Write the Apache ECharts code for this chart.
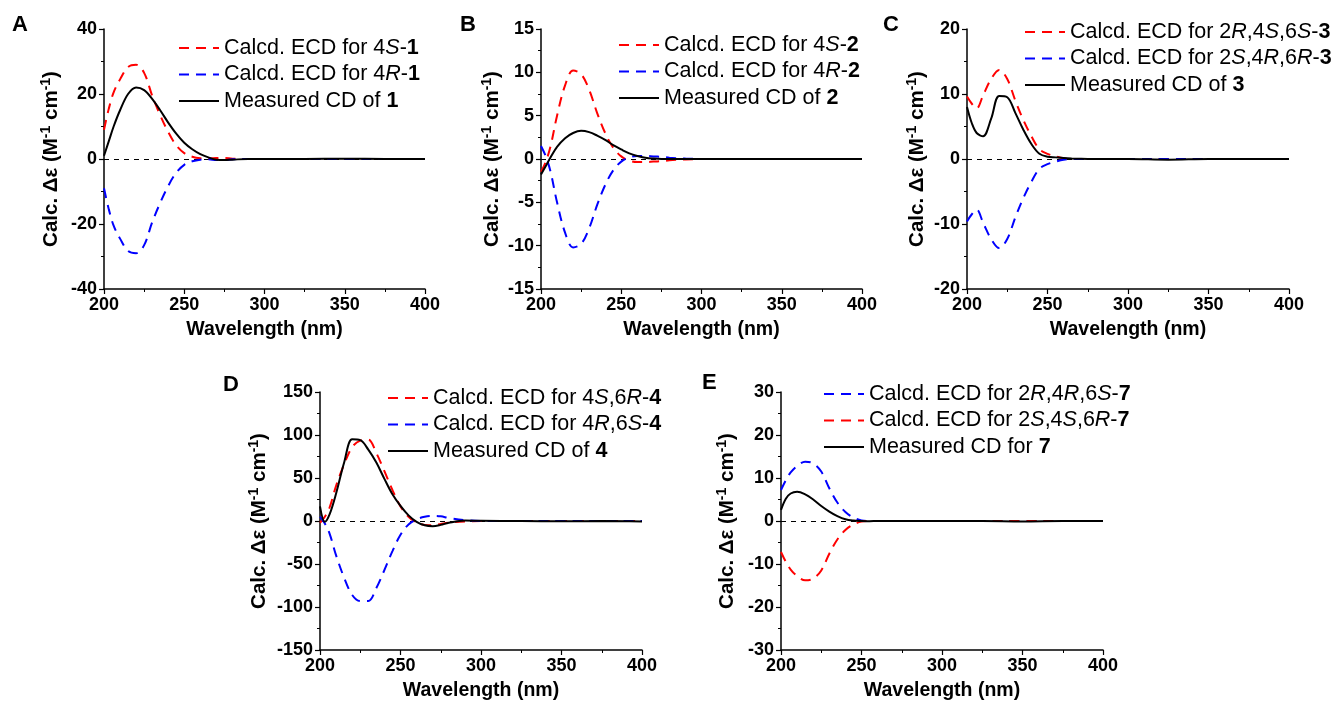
<!DOCTYPE html>
<html><head><meta charset="utf-8">
<script src="https://cdn.jsdelivr.net/npm/echarts@6/dist/echarts.min.js"></script>
<style>html,body{margin:0;padding:0;background:#fff}#c{width:1332px;height:702px}</style>
</head><body><div id="c"></div>
<script>
// ---- data ----
const wavelengths = [200,203,206,210,215,220,225,230,235,240,245,250,255,260,265,270,275,280,290,300,325,350,375,400];

const calcA_4S = [9,15.5,20.5,24.5,28.3,29,26.5,19.5,13.5,8.3,4.2,1.8,0.7,0.2,0.1,0.3,0.3,0.1,0,0,0,0,0,0];
const calcA_4R = [-9,-15.5,-20.5,-24.5,-28.3,-29,-26.5,-19.5,-13.5,-8.3,-4.2,-1.8,-0.7,-0.2,-0.1,-0.3,-0.3,-0.1,0,0,0,0,0,0];
const measA    = [1,5.5,10,15,20,22,21.2,18.5,15,11.2,7.8,5,3,1.5,0.5,-0.2,-0.3,-0.2,0,0,0,0.1,0,0];

const calcB_4S = [-1.5,-0.3,1.5,5,8.5,10.2,9.8,8,5.3,3,1.3,0.3,-0.2,-0.35,-0.35,-0.3,-0.25,-0.15,-0.05,0,0,0,0,0];
const calcB_4R = [1.5,0.3,-1.5,-5,-8.5,-10.2,-9.8,-8,-5.3,-3,-1.3,-0.3,0.2,0.35,0.35,0.3,0.25,0.15,0.05,0,0,0,0,0];
const measB    = [-1.8,-0.8,0.2,1.4,2.4,3.0,3.25,3.1,2.7,2.2,1.6,1.1,0.65,0.35,0.15,0.05,0,0,0,0,0,0,0,0];

const calcC_2R4S6S = [9.6,8.5,7.8,9.8,12.3,13.7,12.3,9,6,3.5,1.5,0.8,0.4,0.1,0,0,0,0,0,0,0,0,0,0];
const calcC_2S4R6R = [-9.6,-8.5,-7.8,-9.8,-12.3,-13.7,-12.3,-9,-6,-3.5,-1.5,-0.8,-0.4,-0.1,0,0,0,0,0,0,0,0,0,0];
const measC        = [8,5.5,4,3.5,6.2,9.7,9.5,7.1,4.5,2.3,0.8,0.35,0.25,0.15,0.08,0.03,0,0,0,0,-0.1,0,0,0];

const calcD_4S6R = [-2,5,16,41,66,86,93.5,94.5,79,58,36,17,5,-2,-4.5,-5,-3.5,-2,-0.5,0,0,0,0,0];
const calcD_4R6S = [5,-3,-15,-40,-66,-86,-93,-93,-78,-57,-35,-16,-4,2,5,6,5.5,3.5,1,0,0,0,0,0];
const measD      = [17,-1,8,32,68,95,94,83,68,49,31,17.5,6.5,-1,-5,-6,-4.5,-2,0.5,0.3,0,-0.3,0,-0.5];

const calcE_2R4R6S = [7.2,9.5,11.3,12.8,13.8,13.4,11.5,7.6,4.3,2.1,0.8,0.15,0,0,0,0,0,0,0,0,0,0,0,0];
const calcE_2S4S6R = [-7.2,-9.5,-11.3,-12.8,-13.8,-13.4,-11.5,-7.6,-4.3,-2.1,-0.8,-0.15,0,0,0,0,0,0,0,0,0,0,0,0];
const measE        = [2.6,5.2,6.4,6.8,6.2,5,3.5,2.2,1.15,0.4,0.1,0,-0.05,0,0,0,0,0,0,0,0,-0.1,0,0];

const yRanges = [[-40,40,20],[-15,15,5],[-20,20,10],[-150,150,50],[-30,30,10]];
const xRange = [200,400,50];
const panelLetters = ['A','B','C','D','E'];
const xAxisTitle = 'Wavelength (nm)';
const yAxisTitle = '{b|Calc. Δε (M}{s|-1}{b| cm}{s|-1}{b|)}';

// series names (plain) and rich legend labels
const seriesDefs = [
  [ {name:'Calcd. ECD for 4S-1', label:'{n|Calcd. ECD for 4}{i|S}{n|-}{b|1}', data:calcA_4S, kind:'red'},
    {name:'Calcd. ECD for 4R-1', label:'{n|Calcd. ECD for 4}{i|R}{n|-}{b|1}', data:calcA_4R, kind:'blue'},
    {name:'Measured CD of 1', label:'{n|Measured CD of }{b|1}', data:measA, kind:'black'} ],
  [ {name:'Calcd. ECD for 4S-2', label:'{n|Calcd. ECD for 4}{i|S}{n|-}{b|2}', data:calcB_4S, kind:'red'},
    {name:'Calcd. ECD for 4R-2', label:'{n|Calcd. ECD for 4}{i|R}{n|-}{b|2}', data:calcB_4R, kind:'blue'},
    {name:'Measured CD of 2', label:'{n|Measured CD of }{b|2}', data:measB, kind:'black'} ],
  [ {name:'Calcd. ECD for 2R,4S,6S-3', label:'{n|Calcd. ECD for 2}{i|R}{n|,4}{i|S}{n|,6}{i|S}{n|-}{b|3}', data:calcC_2R4S6S, kind:'red'},
    {name:'Calcd. ECD for 2S,4R,6R-3', label:'{n|Calcd. ECD for 2}{i|S}{n|,4}{i|R}{n|,6}{i|R}{n|-}{b|3}', data:calcC_2S4R6R, kind:'blue'},
    {name:'Measured CD of 3', label:'{n|Measured CD of }{b|3}', data:measC, kind:'black'} ],
  [ {name:'Calcd. ECD for 4S,6R-4', label:'{n|Calcd. ECD for 4}{i|S}{n|,6}{i|R}{n|-}{b|4}', data:calcD_4S6R, kind:'red'},
    {name:'Calcd. ECD for 4R,6S-4', label:'{n|Calcd. ECD for 4}{i|R}{n|,6}{i|S}{n|-}{b|4}', data:calcD_4R6S, kind:'blue'},
    {name:'Measured CD of 4', label:'{n|Measured CD of }{b|4}', data:measD, kind:'black'} ],
  [ {name:'Calcd. ECD for 2R,4R,6S-7', label:'{n|Calcd. ECD for 2}{i|R}{n|,4}{i|R}{n|,6}{i|S}{n|-}{b|7}', data:calcE_2R4R6S, kind:'blue'},
    {name:'Calcd. ECD for 2S,4S,6R-7', label:'{n|Calcd. ECD for 2}{i|S}{n|,4}{i|S}{n|,6}{i|R}{n|-}{b|7}', data:calcE_2S4S6R, kind:'red'},
    {name:'Measured CD for 7', label:'{n|Measured CD for }{b|7}', data:measE, kind:'black'} ]
];

// ---- layout (styles) ----
const FONT = 'Arial, "Liberation Sans", Helvetica, sans-serif';
const grids = [
  {left:104, top:29, width:321, height:260},
  {left:541, top:29, width:321, height:260},
  {left:967, top:29, width:322, height:260},
  {left:320, top:392, width:322, height:259},
  {left:781, top:392, width:322, height:259}
];
const yNameGaps = [40, 36, 37, 48, 41];
const letterPos = [[12,14],[460,14],[883,14],[223,374],[702,372]];
const legendPos = [[178,37],[618,34],[1024,21],[387,387],[823,383]];
const kindStyle = {
  red:  {color:'#FF0000', type:[10,7], width:2},
  blue: {color:'#0000FF', type:[10,7], width:2},
  black:{color:'#000000', type:'solid', width:2}
};

const labelMap = {};
seriesDefs.forEach(p => p.forEach(s => labelMap[s.name] = s.label));

const axisCommon = {
  axisLine:{show:true, onZero:false, lineStyle:{color:'#000', width:1.5}},
  axisTick:{show:true, inside:false, length:5, lineStyle:{color:'#000', width:1.2}},
  minorTick:{show:true, splitNumber:2, length:3, lineStyle:{color:'#000', width:1}},
  splitLine:{show:false},
  axisLabel:{fontFamily:FONT, fontSize:18, fontWeight:'bold', color:'#000', margin:7}
};

const LF = 21.5;
const option = {
  animation:false,
  backgroundColor:'#fff',
  title: panelLetters.map((t,i)=>({text:t, left:letterPos[i][0], top:letterPos[i][1], padding:0,
    textStyle:{fontFamily:FONT, fontSize:22, fontWeight:'bold', color:'#000', lineHeight:22}})),
  grid: grids,
  xAxis: grids.map((g,i)=>Object.assign({}, axisCommon, {
    type:'value', gridIndex:i, min:xRange[0], max:xRange[1], interval:xRange[2],
    name:xAxisTitle, nameLocation:'middle', nameGap:31,
    nameTextStyle:{fontFamily:FONT, fontSize:19.5, fontWeight:'bold', color:'#000'}
  })),
  yAxis: grids.map((g,i)=>Object.assign({}, axisCommon, {
    type:'value', gridIndex:i, min:yRanges[i][0], max:yRanges[i][1], interval:yRanges[i][2],
    name:yAxisTitle, nameLocation:'middle', nameRotate:90, nameGap:yNameGaps[i],
    nameTextStyle:{rich:{
      b:{fontFamily:FONT, fontSize:20.5, fontWeight:'bold', color:'#000', lineHeight:25},
      s:{fontFamily:FONT, fontSize:14, fontWeight:'bold', color:'#000', lineHeight:14, verticalAlign:'top'}
    }}
  })),
  legend: seriesDefs.map((p,i)=>({
    orient:'vertical', left:legendPos[i][0], top:legendPos[i][1], padding:0,
    itemWidth:40, itemHeight:14, itemGap:4.5, selectedMode:false,
    data:p.map(s=>s.name),
    itemStyle:{opacity:0, color:'transparent', borderWidth:0},
    formatter:n=>labelMap[n],
    textStyle:{fontFamily:FONT, fontSize:LF, color:'#000', lineHeight:22, rich:{
      n:{fontFamily:FONT, fontSize:LF, color:'#000', lineHeight:22},
      i:{fontFamily:FONT, fontSize:LF, color:'#000', fontStyle:'italic', lineHeight:22},
      b:{fontFamily:FONT, fontSize:LF, color:'#000', fontWeight:'bold', lineHeight:22}
    }}
  })),
  series: []
};

seriesDefs.forEach((p,i)=>{
  p.forEach((s,k)=>{
    const st = kindStyle[s.kind];
    const ser = {
      type:'line', name:s.name, xAxisIndex:i, yAxisIndex:i,
      data: wavelengths.map((w,j)=>[w, s.data[j]]),
      symbol:'none', smooth:0.35, z: s.kind==='black'?4:3,
      lineStyle:{color:st.color, type:st.type, width:st.width},
      itemStyle:{color:st.color}
    };
    if (k===0) {
      ser.markLine = {silent:true, symbol:['none','none'], label:{show:false}, animation:false,
        lineStyle:{color:'#000', width:1, type:[5,5]}, data:[{yAxis:0}], z:1};
    }
    option.series.push(ser);
  });
});

const chart = echarts.init(document.getElementById('c'), null, {renderer:'canvas'});
chart.setOption(option);
</script>
</body></html>
